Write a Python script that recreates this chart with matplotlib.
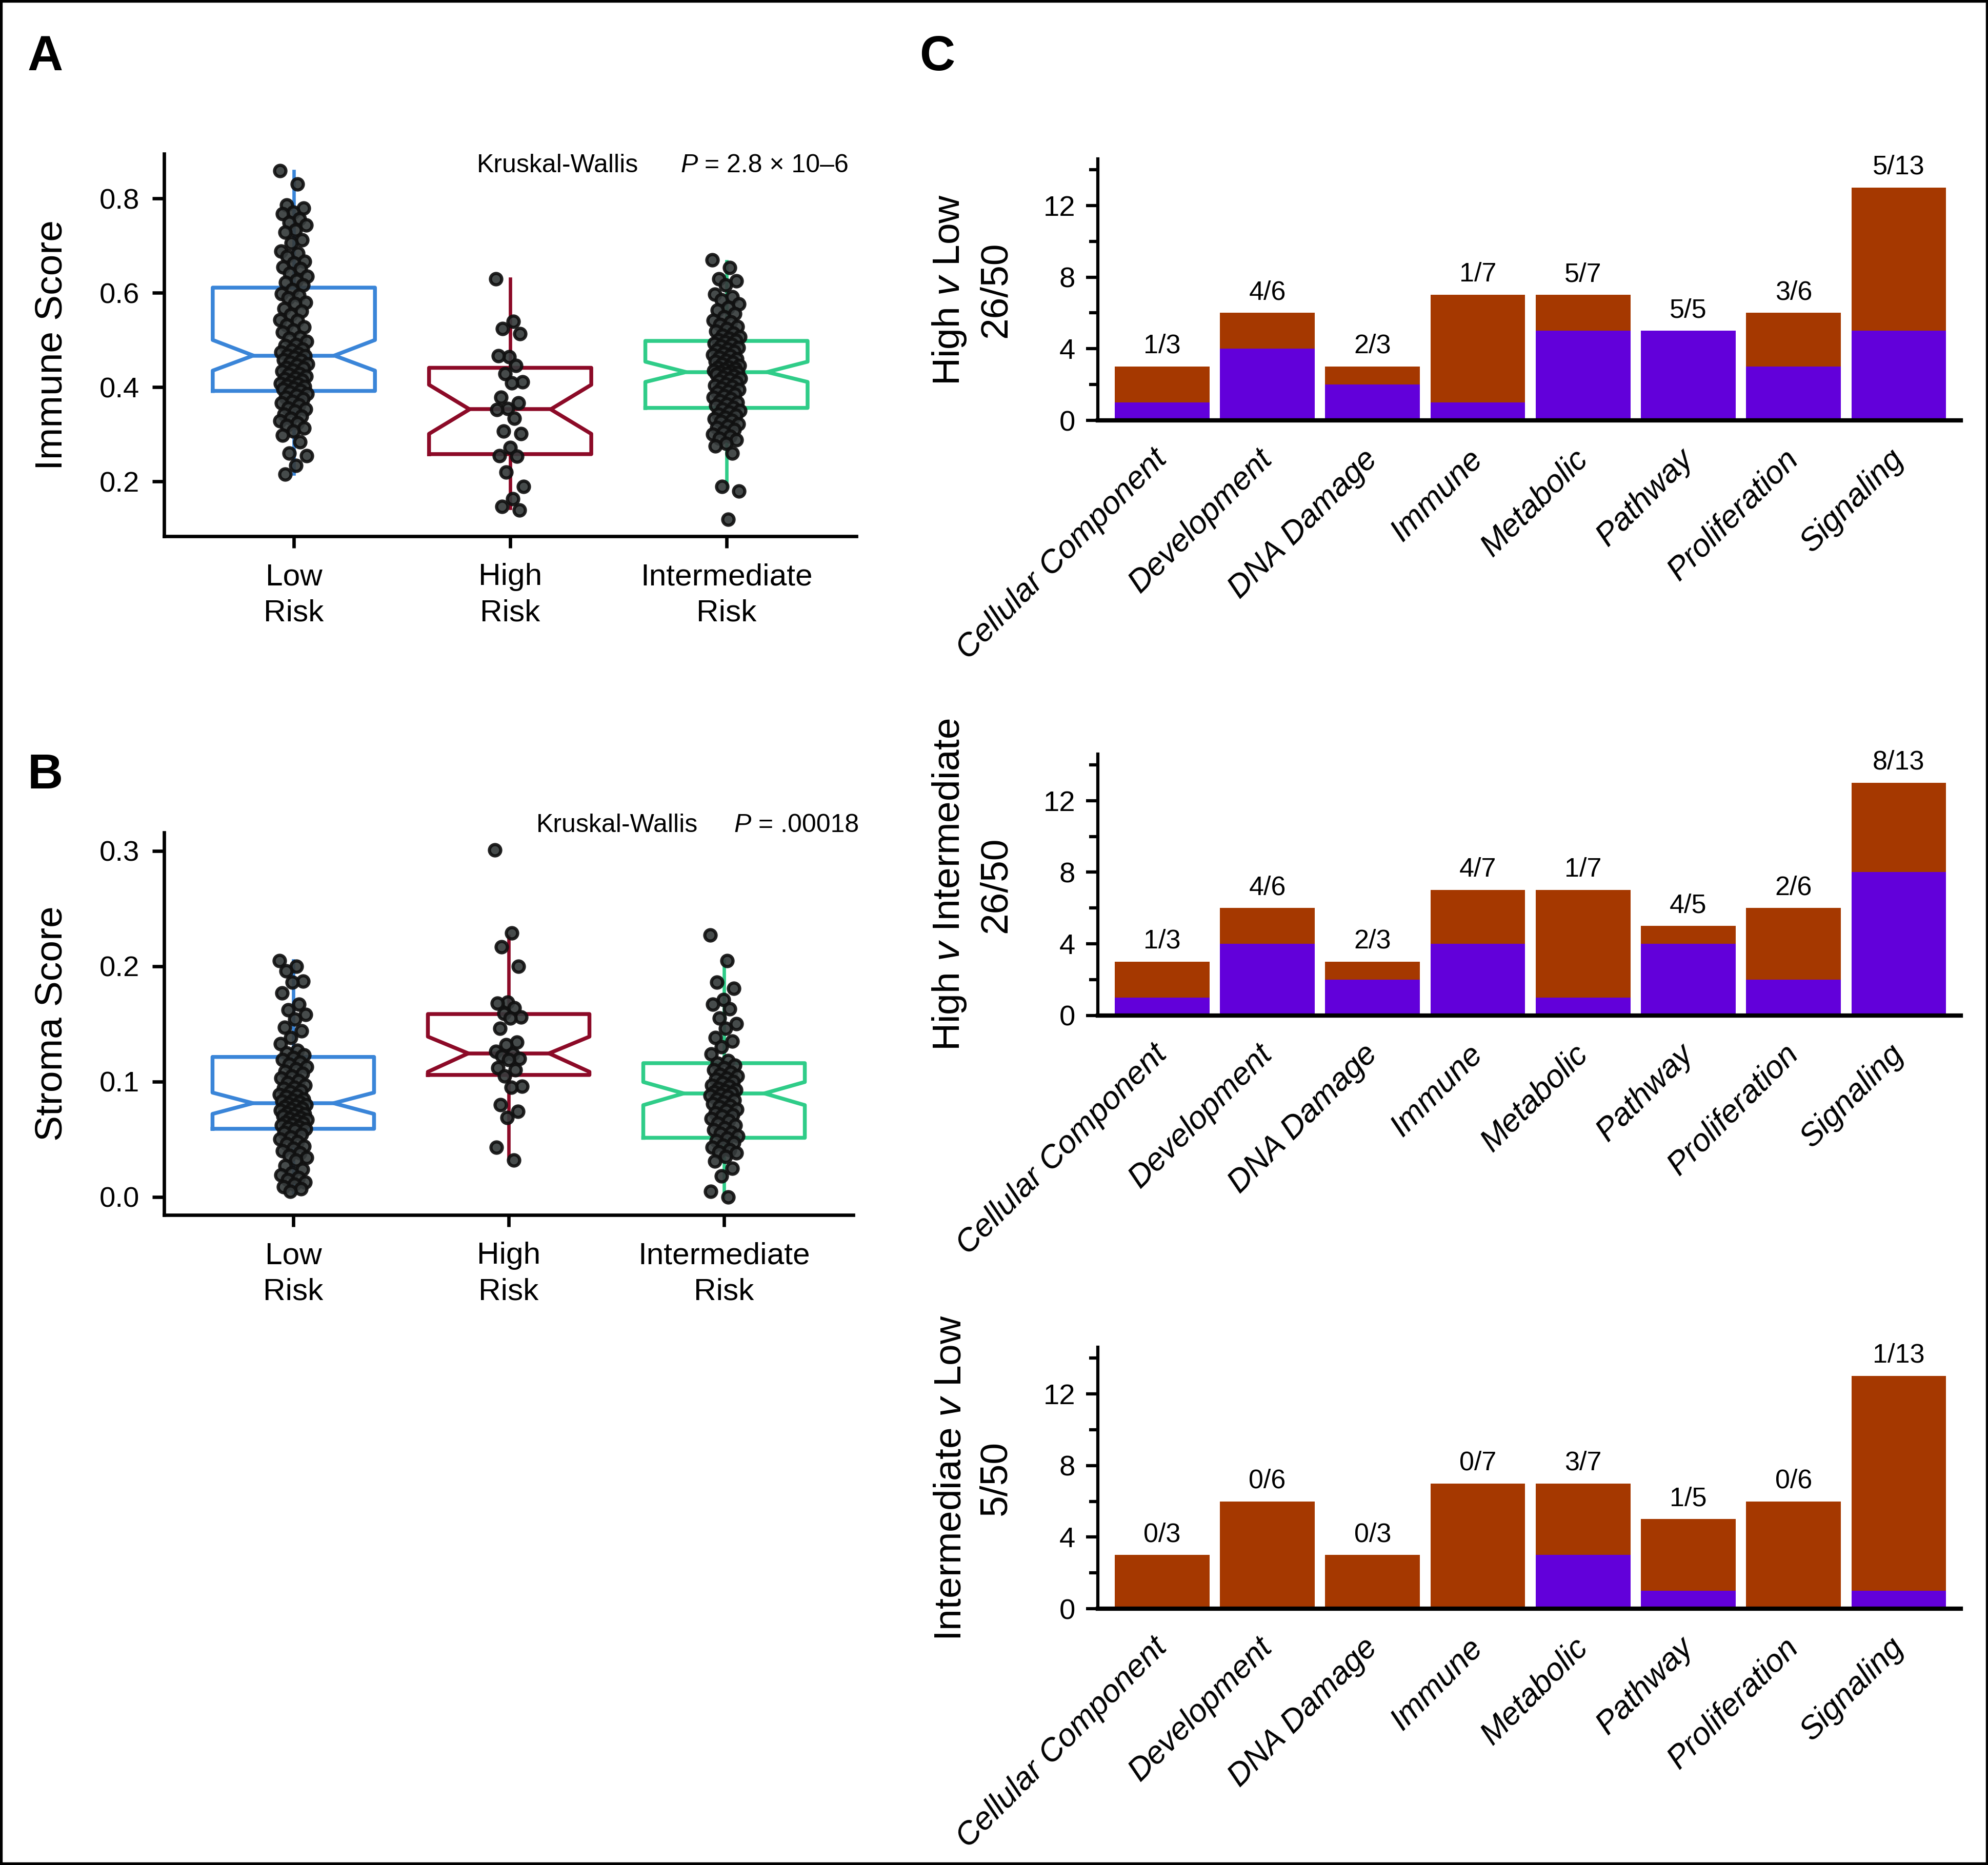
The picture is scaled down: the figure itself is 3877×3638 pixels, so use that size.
import matplotlib
matplotlib.use("Agg")
import matplotlib.pyplot as plt
import matplotlib.transforms as mtransforms
from matplotlib.patches import Rectangle
import numpy as np

plt.rcParams["mathtext.fontset"] = "custom"
plt.rcParams["mathtext.rm"] = "Liberation Sans"
plt.rcParams["mathtext.it"] = "Liberation Sans:italic"

NARROW = ["Liberation Sans Narrow", "Liberation Sans"]
WIDE = ["Liberation Sans", "DejaVu Sans"]

# ---------------- data: panels A / B ----------------
risk_groups = ["Low\nRisk", "High\nRisk", "Intermediate\nRisk"]
risk_colors = ["#3a85d8", "#8c0a27", "#2fcc88"]

# box statistics (low, high, intermediate)
immune_med = [0.467, 0.353, 0.432]
immune_q1 = [0.392, 0.258, 0.356]
immune_q3 = [0.611, 0.441, 0.498]
immune_cilo = [0.435, 0.301, 0.411]
immune_cihi = [0.500, 0.405, 0.454]
immune_whislo = [0.216, 0.144, 0.189]
immune_whishi = [0.858, 0.630, 0.667]

stroma_med = [0.0813, 0.1245, 0.0898]
stroma_q1 = [0.0591, 0.1058, 0.0513]
stroma_q3 = [0.1214, 0.1586, 0.1160]
stroma_cilo = [0.0720, 0.1085, 0.0796]
stroma_cihi = [0.0905, 0.1390, 0.0997]
stroma_whislo = [0.004, 0.0336, 0.0]
stroma_whishi = [0.205, 0.226, 0.205]

immune_low = [0.859, 0.831, 0.786, 0.779, 0.771, 0.768, 0.757, 0.749, 0.744, 0.733,
              0.728, 0.712, 0.706, 0.688, 0.684, 0.677, 0.666, 0.663, 0.655, 0.651,
              0.641, 0.635, 0.626, 0.622, 0.616, 0.607, 0.598, 0.595, 0.589, 0.580,
              0.577, 0.566, 0.561, 0.554, 0.543, 0.541, 0.532, 0.527, 0.521, 0.516,
              0.506, 0.503, 0.497, 0.490, 0.488, 0.481, 0.479, 0.474, 0.471, 0.468,
              0.466, 0.463, 0.458, 0.457, 0.452, 0.449, 0.447, 0.441, 0.440, 0.436,
              0.434, 0.429, 0.427, 0.423, 0.420, 0.418, 0.414, 0.411, 0.408, 0.407,
              0.404, 0.401, 0.398, 0.396, 0.393, 0.389, 0.386, 0.383, 0.378, 0.375,
              0.370, 0.366, 0.362, 0.356, 0.353, 0.349, 0.343, 0.338, 0.334, 0.328,
              0.324, 0.319, 0.313, 0.307, 0.298, 0.284, 0.260, 0.255, 0.234, 0.215]
immune_high = [0.630, 0.539, 0.524, 0.513, 0.464, 0.466, 0.446, 0.428, 0.411, 0.409,
               0.378, 0.367, 0.355, 0.352, 0.334, 0.307, 0.301, 0.272, 0.255, 0.253,
               0.220, 0.189, 0.163, 0.147, 0.139]
immune_mid = [0.670, 0.653, 0.630, 0.625, 0.617, 0.597, 0.591, 0.585, 0.576, 0.569,
              0.563, 0.556, 0.549, 0.542, 0.538, 0.533, 0.529, 0.524, 0.519, 0.514,
              0.510, 0.507, 0.503, 0.500, 0.499, 0.496, 0.493, 0.490, 0.487, 0.484,
              0.481, 0.478, 0.475, 0.472, 0.469, 0.466, 0.463, 0.460, 0.457, 0.455,
              0.452, 0.449, 0.446, 0.443, 0.441, 0.439, 0.437, 0.435, 0.433, 0.432,
              0.431, 0.429, 0.427, 0.424, 0.421, 0.419, 0.416, 0.413, 0.410, 0.407,
              0.404, 0.401, 0.398, 0.395, 0.392, 0.389, 0.385, 0.382, 0.378, 0.375,
              0.371, 0.368, 0.364, 0.361, 0.357, 0.354, 0.350, 0.347, 0.343, 0.340,
              0.336, 0.333, 0.330, 0.327, 0.322, 0.318, 0.314, 0.310, 0.305, 0.300,
              0.296, 0.292, 0.288, 0.281, 0.275, 0.260, 0.189, 0.180, 0.120]

stroma_low = [0.205, 0.200, 0.196, 0.187, 0.186, 0.177, 0.167, 0.162, 0.158, 0.154,
              0.147, 0.144, 0.138, 0.133, 0.127, 0.125, 0.123, 0.121, 0.119, 0.117,
              0.115, 0.113, 0.111, 0.109, 0.107, 0.105, 0.103, 0.101, 0.099, 0.097,
              0.095, 0.094, 0.092, 0.091, 0.089, 0.088, 0.087, 0.085, 0.084, 0.083,
              0.082, 0.081, 0.080, 0.079, 0.078, 0.077, 0.076, 0.075, 0.074, 0.073,
              0.072, 0.071, 0.070, 0.069, 0.068, 0.067, 0.066, 0.065, 0.064, 0.063,
              0.062, 0.061, 0.060, 0.059, 0.058, 0.056, 0.054, 0.052, 0.050, 0.048,
              0.046, 0.044, 0.042, 0.040, 0.038, 0.036, 0.034, 0.032, 0.027, 0.024,
              0.021, 0.019, 0.017, 0.015, 0.013, 0.011, 0.009, 0.007, 0.005]
stroma_high = [0.301, 0.229, 0.217, 0.200, 0.169, 0.168, 0.164, 0.159, 0.156, 0.155,
               0.146, 0.134, 0.132, 0.126, 0.124, 0.122, 0.120, 0.119, 0.112, 0.110,
               0.105, 0.096, 0.095, 0.080, 0.074, 0.069, 0.043, 0.032]
stroma_mid = [0.227, 0.205, 0.186, 0.181, 0.171, 0.167, 0.163, 0.155, 0.150, 0.146,
              0.138, 0.135, 0.130, 0.124, 0.118, 0.116, 0.114, 0.112, 0.110, 0.108,
              0.106, 0.105, 0.103, 0.102, 0.100, 0.099, 0.097, 0.096, 0.094, 0.093,
              0.092, 0.091, 0.090, 0.089, 0.088, 0.087, 0.085, 0.084, 0.082, 0.081,
              0.079, 0.078, 0.076, 0.075, 0.073, 0.071, 0.070, 0.068, 0.066, 0.064,
              0.062, 0.060, 0.058, 0.056, 0.055, 0.053, 0.051, 0.049, 0.047, 0.045,
              0.043, 0.041, 0.039, 0.038, 0.035, 0.031, 0.025, 0.018, 0.005, 0.000]

# ---------------- data: panel C ----------------
categories = ["Cellular Component", "Development", "DNA Damage", "Immune",
              "Metabolic", "Pathway", "Proliferation", "Signaling"]
category_totals = [3, 6, 3, 7, 7, 5, 6, 13]
high_v_low = [1, 4, 2, 1, 5, 5, 3, 5]
high_v_mid = [1, 4, 2, 4, 1, 4, 2, 8]
mid_v_low = [0, 0, 0, 0, 3, 1, 0, 1]
comparison_labels = ["High $\\mathit{v}$ Low\n26/50",
                     "High $\\mathit{v}$ Intermediate\n26/50",
                     "Intermediate $\\mathit{v}$ Low\n5/50"]

BROWN = "#a53800"
PURPLE = "#6200da"

fig = plt.figure(figsize=(3878 / 300, 3638 / 300), dpi=300)


def jitter(n):
    # deterministic spread of the strip points around the group centre
    return ((np.arange(n) * 0.618034) % 1.0 - 0.5) * 0.13


def box_panel(rect, med, q1, q3, cilo, cihi, wlo, whi, points, ylim, yticks,
              ylabel, kw_pos, p_x, p_text):
    ax = fig.add_axes(rect)
    stats = []
    for i in range(3):
        stats.append(dict(med=med[i], q1=q1[i], q3=q3[i], cilo=cilo[i], cihi=cihi[i],
                          whislo=wlo[i], whishi=whi[i], fliers=[]))
    bp = ax.bxp(stats, positions=[0, 1, 2], widths=0.75, shownotches=True,
                showcaps=False, showfliers=False)
    for i, c in enumerate(risk_colors):
        bp["boxes"][i].set(color=c, linewidth=1.8)
        bp["medians"][i].set(color=c, linewidth=1.8)
        bp["whiskers"][2 * i].set(color=c, linewidth=1.6)
        bp["whiskers"][2 * i + 1].set(color=c, linewidth=1.6)
    for i, vals in enumerate(points):
        ax.scatter(i + jitter(len(vals)), vals, s=28, facecolor="#363b3c",
                   edgecolor="#101010", linewidth=1.5, alpha=0.92, zorder=3)
    ax.set_xlim(-0.6, 2.6)
    ax.set_ylim(*ylim)
    ax.set_yticks(yticks)
    ax.set_yticklabels([f"{t:.1f}" for t in yticks], fontfamily=NARROW, fontsize=13.5)
    ax.set_xticks([0, 1, 2])
    ax.set_xticklabels(risk_groups, fontfamily=NARROW, fontsize=14.5, linespacing=1.35)
    ax.spines[["top", "right"]].set_visible(False)
    ax.spines[["left", "bottom"]].set_linewidth(1.6)
    ax.tick_params(axis="both", width=1.6, length=5.5)
    ax.tick_params(axis="y", pad=6)
    ax.tick_params(axis="x", pad=7)
    ax.set_ylabel(ylabel, fontfamily=WIDE, fontsize=18, labelpad=14)
    ax.text(kw_pos[0], kw_pos[1], "Kruskal-Wallis", transform=ax.transAxes,
            fontfamily=NARROW, fontsize=12, va="baseline")
    pt = ax.text(p_x, kw_pos[1], "P", transform=ax.transAxes, fontfamily=NARROW,
                 style="italic", fontsize=12, va="baseline")
    ax.annotate(" = " + p_text, xy=(1, 0), xycoords=pt, va="bottom", ha="left",
                fontfamily=NARROW, fontsize=12)
    return ax


box_panel([0.0825, 0.7125, 0.3481, 0.2051], immune_med, immune_q1, immune_q3,
          immune_cilo, immune_cihi, immune_whislo, immune_whishi,
          [immune_low, immune_high, immune_mid], (0.084, 0.895), [0.2, 0.4, 0.6, 0.8],
          "Immune Score", (0.452, 0.952), 0.746, "2.8 × 10–6")
box_panel([0.0825, 0.3485, 0.3466, 0.2051], stroma_med, stroma_q1, stroma_q3,
          stroma_cilo, stroma_cihi, stroma_whislo, stroma_whishi,
          [stroma_low, stroma_high, stroma_mid], (-0.0157, 0.316), [0.0, 0.1, 0.2, 0.3],
          "Stroma Score", (0.540, 1.001), 0.827, ".00018")

# ---------------- panel C ----------------
c_bottoms = [0.7746, 0.4555, 0.1374]
x = np.arange(len(categories))
for bottom, sig, label in zip(c_bottoms, [high_v_low, high_v_mid, mid_v_low],
                              comparison_labels):
    ax = fig.add_axes([0.5521, bottom, 0.434, 0.1402])
    ax.bar(x, category_totals, width=0.9, color=BROWN)
    ax.bar(x, sig, width=0.9, color=PURPLE)
    for xi, s, t in zip(x, sig, category_totals):
        ax.text(xi, t + 0.75, f"{s}/{t}", ha="center", va="baseline",
                fontfamily=NARROW, fontsize=12.5, clip_on=False)
    ax.set_xlim(-0.61, 7.59)
    ax.set_ylim(0, 14.6)
    ax.set_yticks([0, 4, 8, 12])
    ax.set_yticks([2, 6, 10, 14], minor=True)
    ax.set_yticklabels(["0", "4", "8", "12"], fontfamily=NARROW, fontsize=13.5)
    ax.set_xticks(x)
    ax.set_xticklabels(categories, rotation=45, ha="right", va="center",
                       rotation_mode="anchor", style="italic", fontfamily=WIDE,
                       fontsize=15)
    offset = mtransforms.ScaledTranslation(0.14, 0.02, fig.dpi_scale_trans)
    for lbl in ax.get_xticklabels():
        lbl.set_transform(lbl.get_transform() + offset)
    ax.spines[["top", "right"]].set_visible(False)
    ax.spines["left"].set_linewidth(1.5)
    ax.spines["bottom"].set_linewidth(2.0)
    ax.tick_params(axis="x", length=0, pad=16)
    ax.tick_params(axis="y", which="major", width=1.5, length=5.5, pad=5)
    ax.tick_params(axis="y", which="minor", width=1.5, length=4)
    ax.set_ylabel(label, fontfamily=WIDE, fontsize=18, labelpad=14, linespacing=1.35)

# panel letters and frame
for letter, lx, ly in [("A", 0.0139, 0.9623), ("B", 0.0139, 0.5772), ("C", 0.4624, 0.9623)]:
    fig.text(lx, ly, letter, fontfamily=WIDE, fontweight="bold", fontsize=23,
             va="baseline", ha="left")
fig.add_artist(Rectangle((0, 0), 1, 1, transform=fig.transFigure, fill=False,
                         edgecolor="black", linewidth=2.5))

fig.savefig("out.png", dpi=300)
